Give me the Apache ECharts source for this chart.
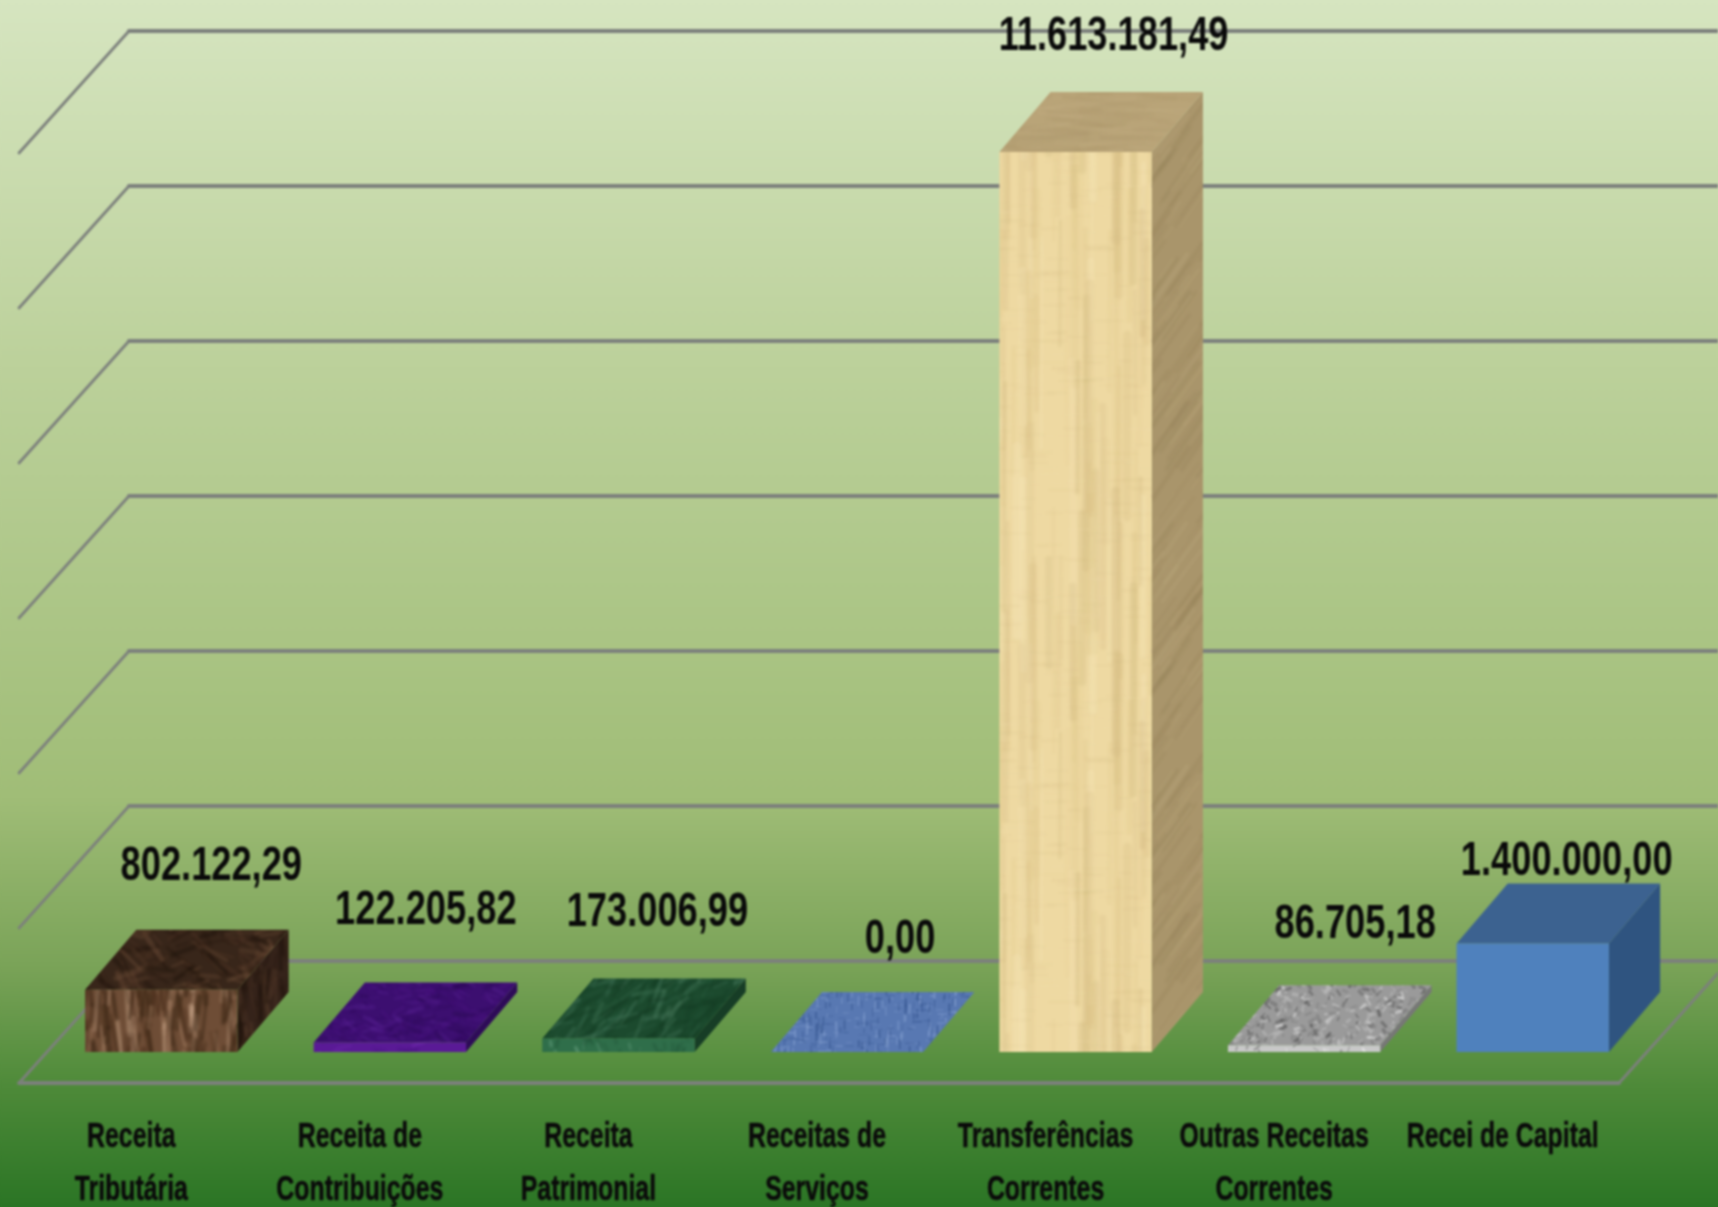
<!DOCTYPE html>
<html><head><meta charset="utf-8">
<style>html,body{margin:0;padding:0;overflow:hidden;height:1207px;background:linear-gradient(to bottom,#d6e5c0 0%,#bcd19b 30%,#a0bd77 66%,#7aa358 80%,#4e8a39 90%,#2b7525 100%)}#c{width:1718px;height:1207px;filter:blur(0.8px)}</style>
<script src="https://cdn.jsdelivr.net/npm/echarts@6/dist/echarts.min.js"></script>
</head><body><div id="c"></div>
<script>
const categories = ['Receita\nTributária','Receita de\nContribuições','Receita\nPatrimonial','Receitas de\nServiços','Transferências\nCorrentes','Outras Receitas\nCorrentes','Recei de Capital'];
const values = [802122.29,122205.82,173006.99,0,11613181.49,86705.18,1400000];
const yTicks = [0,2000000,4000000,6000000,8000000,10000000,12000000];
const labelNudgeX = [50,36,39,53,38,51,34];
const labelNudgeY = [-63,-72,-66,-52,-55,-61,-22];

const DX=110, DY=122, F=0.2546, BX=0.72, BY=0.7464;
function fmt(v){const s=v.toFixed(2).split('.');return s[0].replace(/\B(?=(\d{3})+$)/g,'.')+','+s[1];}

function rng(seed){let s=seed;return ()=>{s=(s*1664525+1013904223)%4294967296;return s/4294967296;};}
function tex(o){
  const c=document.createElement('canvas'),W=o.w||256,H=o.h||256;c.width=W;c.height=H;
  const g=c.getContext('2d'),r=rng(o.seed||1);
  g.fillStyle=o.bg;g.fillRect(0,0,W,H);
  g.filter='blur('+(o.blur==null?1:o.blur)+'px)';
  (o.layers||[]).forEach(l=>{
    for(let i=0;i<l.n;i++){
      const x=r()*W,y=r()*H,a=l.angle+(r()-.5)*(l.spread||0),len=l.len*(.5+r());
      g.strokeStyle=l.colors[Math.floor(r()*l.colors.length)];
      g.globalAlpha=l.alpha*(.5+r()*.5);g.lineWidth=l.lw*(.5+r());g.lineCap='round';
      const ox=x+Math.cos(a)*len/2, oy=y+Math.sin(a)*len/2;
      for(const sx of [-W,0,W]) for(const sy of [-H,0,H]){
        if(ox+sx<-len||ox+sx>W+len||oy+sy<-len||oy+sy>H+len) continue;
        g.beginPath();g.moveTo(x+sx,y+sy);g.lineTo(x+sx+Math.cos(a)*len,y+sy+Math.sin(a)*len);g.stroke();
      }
    }
  });
  g.globalAlpha=1;
  return {image:c,repeat:'repeat'};
}
const V=Math.PI/2;
const faces=[
 {front:tex({seed:11,bg:'#6e4d36',layers:[{n:420,angle:V,spread:.5,len:36,lw:4,alpha:.55,colors:['#33200f','#a98468','#c9a68a','#4a2e1b','#33200f']}]}),
  top:tex({seed:12,bg:'#38261a',layers:[{n:700,angle:.3,spread:1.8,len:22,lw:3.5,alpha:.5,colors:['#1b1009','#6b4c36','#4f3526']}]}),
  side:tex({seed:13,bg:'#35231a',layers:[{n:500,angle:V,spread:.5,len:30,lw:3,alpha:.5,colors:['#1c110a','#5d412e']}]})},
 {front:tex({seed:21,bg:'#5a1a96',layers:[{n:400,angle:0,spread:1,len:14,lw:3,alpha:.4,colors:['#7a30b8','#40107a']}]}),
  top:tex({seed:22,bg:'#3c0f70',layers:[{n:900,angle:.2,spread:1.5,len:14,lw:3,alpha:.5,colors:['#2b0a55','#55208f','#4a1480']}]}),
  side:tex({seed:23,bg:'#2e0b58',layers:[]})},
 {front:tex({seed:31,bg:'#2f6e4a',layers:[{n:400,angle:V,spread:1,len:10,lw:2,alpha:.6,colors:['#7fb596','#1b4a30']}]}),
  top:tex({seed:32,bg:'#1c4a2e',layers:[{n:700,angle:-.7,spread:1.2,len:24,lw:3,alpha:.42,colors:['#4f8265','#12361f','#2d6042']}]}),
  side:tex({seed:33,bg:'#173d26',layers:[]})},
 {front:tex({seed:41,bg:'#6484bc',layers:[]}),
  top:tex({seed:42,bg:'#5878b2',blur:.4,layers:[{n:1100,angle:V,spread:.1,len:6,lw:1.5,alpha:.65,colors:['#34548e','#8aa5d4']},{n:700,angle:0,spread:.1,len:6,lw:1.2,alpha:.5,colors:['#34548e','#8aa5d4']}]}),
  side:tex({seed:43,bg:'#3e5c92',layers:[]})},
 {front:tex({seed:51,bg:'#eed9a2',h:512,layers:[{n:130,angle:V,spread:.01,len:180,lw:6,alpha:.28,colors:['#f8eabf','#d6bd80','#e2c98c','#c9b078']},{n:500,angle:0,spread:.02,len:20,lw:1,alpha:.18,colors:['#c9b078','#f8eabf']}]}),
  top:tex({seed:52,bg:'#b9a478',layers:[{n:300,angle:0,spread:.3,len:60,lw:3,alpha:.22,colors:['#a89266','#cbb68c']}]}),
  side:tex({seed:53,bg:'#a9956b',h:512,layers:[{n:350,angle:-.95,spread:.05,len:60,lw:3,alpha:.25,colors:['#8f7c54','#c0ad82']}]})},
 {front:tex({seed:61,bg:'#c8c8c8',blur:.4,layers:[{n:400,angle:0,spread:3,len:4,lw:2,alpha:.6,colors:['#f2f2f2','#6f6f6f']}]}),
  top:tex({seed:62,bg:'#9a9a9a',blur:.5,layers:[{n:1800,angle:0,spread:3,len:4,lw:2.6,alpha:.65,colors:['#555555','#dcdcdc','#808080','#bdbdbd']}]}),
  side:tex({seed:63,bg:'#777777',layers:[]})},
 {front:'#4f81bd',top:'#3c6290',side:'#2f5480'}
];

const chart=echarts.init(document.getElementById('c'),null,{renderer:'canvas'});
const lineCol='#7c807c';
function renderWall(params,api){
  const cs=params.coordSys, v=api.value(0), y=api.coord([0,v])[1], L=cs.x, R=cs.x+cs.width, ch=[];
  const ln=(x1,y1,x2,y2,w)=>({type:'line',shape:{x1,y1,x2,y2},style:{stroke:lineCol,lineWidth:w,lineCap:'round'}});
  ch.push(ln(L,y,L+DX,y-DY,2.8));
  ch.push(ln(L+DX,y-DY,R+DX+20,y-DY,4));
  if(v===0){ ch.push(ln(L,y,R,y,3.8)); ch.push(ln(R,y,R+DX,y-DY,2.8)); }
  return {type:'group',children:ch};
}
function renderBar(params,api){
  const i=api.value(0), v=api.value(1), f=faces[i];
  const band=api.size([1,0])[0], w=band/1.5;
  const c=api.coord([i,v]), b=api.coord([i,0]);
  const oX=DX*F,oY=DY*F,pX=DX*(BX-F),pY=DY*(BY-F);
  const x0=c[0]-w/2+oX,x1=x0+w,yb=b[1]-oY,yt=c[1]-oY;
  const poly=(pts,fill)=>({type:'polygon',shape:{points:pts},style:{fill:fill,stroke:null}});
  return {type:'group',children:[
    poly([[x1,yb],[x1+pX,yb-pY],[x1+pX,yt-pY],[x1,yt]],f.side),
    poly([[x0,yt],[x1,yt],[x1+pX,yt-pY],[x0+pX,yt-pY]],f.top),
    poly([[x0,yb],[x1,yb],[x1,yt],[x0,yt]],f.front)
  ]};
}
function renderValueLabel(params,api){
  const i=api.value(0), v=api.value(1), c=api.coord([i,v]);
  return {type:'text',x:c[0]+DX*F+labelNudgeX[i],y:c[1]-DY*F-DY*(BY-F)+labelNudgeY[i],scaleX:.74,
    style:{text:fmt(v),font:'bold 49px "Liberation Sans"',fill:'#0a0a0a',textAlign:'center',textVerticalAlign:'middle'}};
}
function renderCatLabel(params,api){
  const i=api.value(0), c=api.coord([i,0]);
  return {type:'text',x:c[0]-2,y:c[1]+28,scaleX:.71,
    style:{text:categories[i],font:'bold 35px "Liberation Sans"',lineHeight:53,fill:'#0a0a0a',stroke:'#0a0a0a',lineWidth:.5,textAlign:'center',textVerticalAlign:'top'}};
}
const barData=values.map((v,i)=>[i,v]);
chart.setOption({
  animation:false,
  backgroundColor:{type:'linear',x:0,y:0,x2:0,y2:1,colorStops:[
    {offset:0,color:'#d6e5c0'},{offset:.3,color:'#bcd19b'},{offset:.66,color:'#a0bd77'},
    {offset:.8,color:'#7aa358'},{offset:.9,color:'#4e8a39'},{offset:1,color:'#2b7525'}]},
  grid:{left:19,right:99,top:153,bottom:124},
  xAxis:{type:'category',data:categories,axisLine:{show:false},axisTick:{show:false},axisLabel:{show:false},splitLine:{show:false}},
  yAxis:{type:'value',min:0,max:12000000,interval:2000000,axisLine:{show:false},axisTick:{show:false},axisLabel:{show:false},splitLine:{show:false}},
  series:[
    {type:'custom',name:'wall',data:yTicks.map(v=>[v]),encode:{y:0},renderItem:renderWall,silent:true,z:1},
    {type:'custom',name:'Receitas',data:barData,encode:{x:0,y:1},renderItem:renderBar,z:2},
    {type:'custom',name:'valores',data:barData,encode:{x:0,y:1},renderItem:renderValueLabel,z:3},
    {type:'custom',name:'categorias',data:barData,encode:{x:0,y:1},renderItem:renderCatLabel,z:3}
  ]
});
</script></body></html>
